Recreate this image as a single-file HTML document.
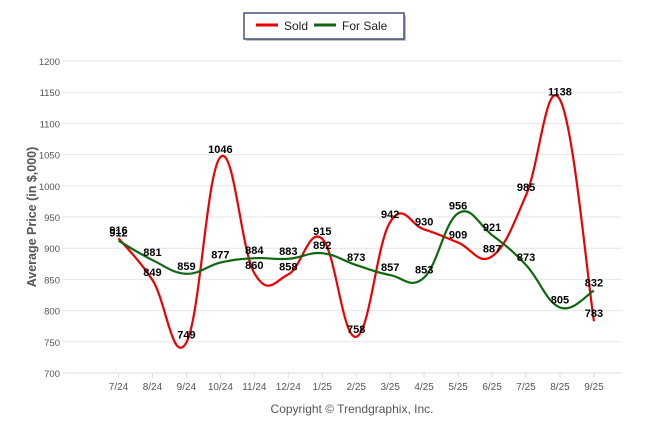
<!DOCTYPE html>
<html><head><meta charset="utf-8"><style>
body{margin:0;background:#fff;width:646px;height:434px;overflow:hidden;font-family:"Liberation Sans",sans-serif}
</style></head><body>
<svg id="chart" width="646" height="434" xmlns="http://www.w3.org/2000/svg" font-family="Liberation Sans, sans-serif">
<g>
<rect x="246" y="15" width="160" height="26" fill="#999" opacity="0.6"/>
<rect x="244" y="13" width="160" height="26" fill="#fff" stroke="#1a2a5a" stroke-width="1.2"/>
<g><line x1="256" y1="25" x2="278" y2="25" stroke="#ee0000" stroke-width="3"/><text x="284" y="30" font-size="12" fill="#222">Sold</text></g>
<g><line x1="314" y1="25" x2="336" y2="25" stroke="#116611" stroke-width="3"/><text x="342" y="30" font-size="12" fill="#222">For Sale</text></g>
</g>
<g id="grid"></g>
<g id="axes"></g>
<text transform="translate(36,217) rotate(-90)" text-anchor="middle" font-size="12.5" font-weight="bold" fill="#555">Average Price (in $,000)</text>
<text x="352" y="413" text-anchor="middle" font-size="12" fill="#555">Copyright © Trendgraphix, Inc.</text>
<g id="series"></g>
</svg>
<script>
const categories=["7/24","8/24","9/24","10/24","11/24","12/24","1/25","2/25","3/25","4/25","5/25","6/25","7/25","8/25","9/25"];
const soldValues=[916,849,749,1046,860,858,915,758,942,930,909,887,985,1138,783];
const forSaleValues=[912,881,859,877,884,883,892,873,857,853,956,921,873,805,832];
const yTicks=[700,750,800,850,900,950,1000,1050,1100,1150,1200];
const NS="http://www.w3.org/2000/svg";
const x0=118.5,dx=33.96,yBase=373,yMin=700,yScale=0.624;
function xs(i){return x0+i*dx;}
function ys(v){return yBase-(v-yMin)*yScale;}
function mk(tag,attrs,parent){const e=document.createElementNS(NS,tag);for(const k in attrs)e.setAttribute(k,attrs[k]);parent.appendChild(e);return e;}
const grid=document.getElementById('grid'),axes=document.getElementById('axes'),series=document.getElementById('series');
yTicks.forEach(t=>{
 const l=mk('line',{x1:62,x2:622,y1:ys(t),y2:ys(t),stroke:'#e6e6e6','stroke-width':1},grid);
 
 
 const tx=mk('text',{x:60,y:ys(t)+4,'text-anchor':'end','font-size':9.5,fill:'#555'},axes);
 tx.textContent=t;
 
 
});
const ax=mk('line',{x1:67,x2:622,y1:yBase,y2:yBase,stroke:'#ddd'},axes);


categories.forEach((c,i)=>{
 const t=mk('line',{x1:xs(i),x2:xs(i),y1:yBase,y2:yBase+5,stroke:'#ddd'},axes);
 
 
 const tx=mk('text',{x:xs(i),y:390,'text-anchor':'middle','font-size':10,fill:'#555'},axes);
 tx.textContent=c;
 
 
});
function path(vals){
 const p=vals.map((v,i)=>[xs(i),ys(v)]);
 let d='M'+p[0][0]+','+p[0][1];
 const k=0.2;
 for(let i=0;i<p.length-1;i++){
  const a=p[i-1]||p[i],b=p[i],c=p[i+1],e=p[i+2]||c;
  d+=' C'+(b[0]+(c[0]-a[0])*k)+','+(b[1]+(c[1]-a[1])*k)+' '+(c[0]-(e[0]-b[0])*k)+','+(c[1]-(e[1]-b[1])*k)+' '+c[0]+','+c[1];
 }
 return d;
}
function drawSeries(vals,color,name){
 const p=mk('path',{d:path(vals),fill:'none',stroke:color,'stroke-width':2.2},series);
 
 
}
function drawLabels(vals,name){
 vals.forEach((v,i)=>{
  const t=mk('text',{x:xs(i),y:ys(v)-4,'text-anchor':'middle','font-size':11,'font-weight':'bold',fill:'#000'},series);
  t.textContent=v;
  
  
 });
}
drawSeries(soldValues,'#ee0000','sold');
drawSeries(forSaleValues,'#116611','for-sale');
drawLabels(soldValues,'sold');
drawLabels(forSaleValues,'for-sale');
</script>
</body></html>
